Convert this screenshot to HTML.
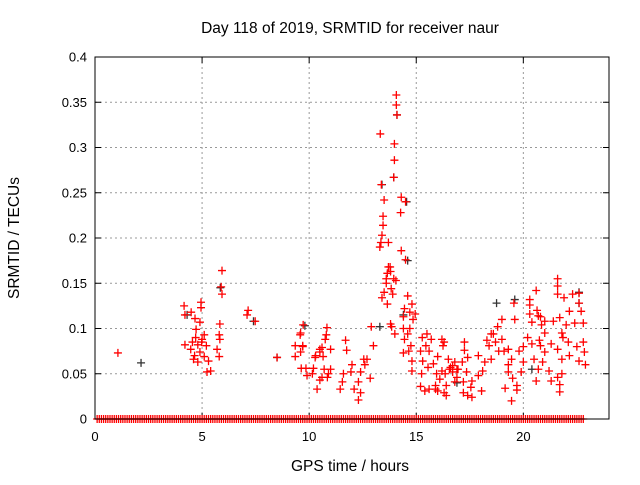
<!DOCTYPE html>
<html><head><meta charset="utf-8"><style>
body{margin:0;background:#fff}
svg text{font-family:"Liberation Sans",sans-serif;font-size:13px;fill:#000}
svg text.big{font-size:15.5px}
</style></head><body>
<svg id="chart" width="640" height="480" viewBox="0 0 640 480">
<rect width="640" height="480" fill="#fff"/>
<g id="grid"></g>
<g id="ticks"></g>
<g id="blackpts"></g>
<g id="redpts"></g>
<rect x="95" y="57" width="514" height="362" fill="none" stroke="#000" stroke-width="1"/>
<text class="big" x="350" y="33" text-anchor="middle">Day 118 of 2019, SRMTID for receiver naur</text>
<text class="big" x="350" y="471" text-anchor="middle">GPS time / hours</text>
<text class="big" transform="translate(19,238) rotate(-90)" text-anchor="middle">SRMTID / TECUs</text>
</svg>
<script>
const xTicks=[0,5,10,15,20];
const xTickLabels=["0","5","10","15","20"];
const yTicks=[0,0.05,0.1,0.15,0.2,0.25,0.3,0.35,0.4];
const yTickLabels=["0","0.05","0.1","0.15","0.2","0.25","0.3","0.35","0.4"];
const redHours=[1.07,4.16,4.2,4.49,4.67,4.95,4.95,4.9,4.72,5.1,4.2,4.47,4.55,4.8,4.65,4.6,4.8,5.1,5.3,5.23,5.4,5.7,5.8,5.8,5.83,5.83,5.0,5.2,5.93,5.89,5.93,4.7,4.98,4.9,7.15,7.1,7.48,8.5,
9.35,9.35,9.72,9.6,9.7,9.63,9.85,9.9,10.2,10.15,10.37,10.3,10.5,10.6,10.75,10.83,10.65,10.7,10.9,10.6,9.58,9.7,9.6,10.28,10.5,10.8,11.0,10.85,11.0,10.5,11.55,11.45,11.7,11.75,11.6,12.0,12.1,12.3,12.4,12.3,11.95,12.4,12.55,12.6,12.7,12.85,12.9,13.0,
14.07,14.07,14.1,13.32,13.98,13.98,13.95,13.37,13.5,13.45,13.45,13.4,13.35,13.3,13.7,14.3,14.5,14.27,14.3,14.5,13.7,13.78,13.65,13.8,13.6,13.95,13.6,14.05,13.83,13.5,13.9,13.4,13.65,14.6,14.8,14.45,14.7,14.4,14.95,14.85,13.8,13.85,14.0,14.4,14.7,14.6,14.45,14.75,14.4,14.65,14.8,14.8,
15.28,15.5,15.7,15.45,15.6,15.2,15.3,15.55,15.8,16.2,16.25,16.0,15.95,15.25,15.2,15.4,15.6,15.9,16.3,16.1,16.2,16.5,16.7,16.7,16.8,16.55,16.9,
21.6,21.6,21.6,20.6,22.3,22.6,21.9,22.6,22.7,22.15,19.56,20.3,20.3,20.3,20.4,19.6,20.8,20.85,20.64,20.7,21.0,21.4,21.7,22.0,22.4,22.8,21.8,21.85,22.1,22.5,22.8,22.85,22.9,22.6,22.15,21.8,21.6,21.3,21.0,20.9,21.2,21.6,21.7,21.7,21.8,21.3,20.7,20.6,20.5,20.4,20.75,21.0,20.8,20.2,20.0,20.0,19.9,19.7,19.7,19.45,19.5,19.3,19.15,19.45,19.3,19.0,18.85,18.7,18.6,18.4,18.2,18.5,18.1,17.9,17.6,17.55,17.4,17.6,17.2,17.2,17.35,17.15,16.95,16.9,16.8,16.6,16.4,16.4,16.35,16.3,16.0,15.9,17.25,17.25,17.4,17.9,18.3,18.5,18.8,19.0,18.05,19.3,19.8,19.1];
const redValues=[0.073,0.125,0.115,0.118,0.111,0.129,0.123,0.107,0.099,0.093,0.082,0.077,0.085,0.082,0.07,0.066,0.063,0.069,0.064,0.052,0.053,0.077,0.069,0.093,0.105,0.088,0.088,0.081,0.164,0.146,0.138,0.09,0.085,0.074,0.12,0.115,0.108,0.068,
0.081,0.069,0.104,0.095,0.081,0.056,0.056,0.048,0.056,0.05,0.033,0.07,0.074,0.079,0.088,0.101,0.069,0.055,0.05,0.046,0.093,0.08,0.074,0.068,0.077,0.093,0.077,0.046,0.055,0.043,0.041,0.033,0.087,0.076,0.05,0.06,0.033,0.041,0.029,0.021,0.052,0.052,0.066,0.06,0.066,0.045,0.102,0.081,
0.358,0.347,0.336,0.315,0.304,0.286,0.267,0.259,0.242,0.224,0.214,0.203,0.195,0.19,0.195,0.245,0.24,0.228,0.186,0.176,0.168,0.168,0.161,0.163,0.155,0.155,0.15,0.153,0.144,0.14,0.138,0.134,0.127,0.136,0.127,0.122,0.118,0.113,0.116,0.11,0.105,0.102,0.094,0.1,0.1,0.094,0.088,0.081,0.073,0.075,0.064,0.053,
0.09,0.094,0.088,0.081,0.075,0.075,0.064,0.057,0.061,0.088,0.081,0.069,0.05,0.05,0.036,0.031,0.033,0.033,0.029,0.044,0.053,0.066,0.059,0.052,0.041,0.055,0.055,
0.155,0.147,0.138,0.142,0.138,0.139,0.134,0.128,0.119,0.119,0.128,0.132,0.126,0.116,0.107,0.11,0.113,0.104,0.12,0.114,0.108,0.108,0.112,0.104,0.106,0.106,0.095,0.09,0.085,0.08,0.085,0.074,0.06,0.064,0.07,0.066,0.077,0.083,0.074,0.063,0.053,0.046,0.038,0.03,0.05,0.042,0.055,0.042,0.066,0.083,0.087,0.095,0.081,0.09,0.08,0.063,0.052,0.037,0.032,0.02,0.045,0.052,0.034,0.066,0.077,0.088,0.075,0.085,0.094,0.081,0.063,0.066,0.053,0.048,0.042,0.035,0.026,0.024,0.029,0.041,0.052,0.063,0.055,0.046,0.063,0.057,0.037,0.026,0.05,0.085,0.031,0.037,0.085,0.076,0.068,0.07,0.087,0.094,0.102,0.11,0.031,0.06,0.075,0.075];
const zeroHours=[0.1,0.2,0.3,0.4,0.5,0.6,0.7,0.8,0.9,1.0,1.1,1.2,1.3,1.4,1.5,1.6,1.7,1.8,1.9,2.0,2.1,2.2,2.3,2.4,2.5,2.6,2.7,2.8,2.9,3.0,3.1,3.2,3.3,3.4,3.5,3.6,3.7,3.8,3.9,4.0,4.1,4.2,4.3,4.4,4.5,4.6,4.7,4.8,4.9,5.0,5.1,5.2,5.3,5.4,5.5,5.6,5.7,5.8,5.9,6.0,6.1,6.2,6.3,6.4,6.5,6.6,6.7,6.8,6.9,7.0,7.1,7.2,7.3,7.4,7.5,7.6,7.7,7.8,7.9,8.0,8.1,8.2,8.3,8.4,8.5,8.6,8.7,8.8,8.9,9.0,9.1,9.2,9.3,9.4,9.5,9.6,9.7,9.8,9.9,10.0,10.1,10.2,10.3,10.4,10.5,10.6,10.7,10.8,10.9,11.0,11.1,11.2,11.3,11.4,11.5,11.6,11.7,11.8,11.9,12.0,12.1,12.2,12.3,12.4,12.5,12.6,12.7,12.8,12.9,13.0,13.1,13.2,13.3,13.4,13.5,13.6,13.7,13.8,13.9,14.0,14.1,14.2,14.3,14.4,14.5,14.6,14.7,14.8,14.9,15.0,15.1,15.2,15.3,15.4,15.5,15.6,15.7,15.8,15.9,16.0,16.1,16.2,16.3,16.4,16.5,16.6,16.7,16.8,16.9,17.0,17.1,17.2,17.3,17.4,17.5,17.6,17.7,17.8,17.9,18.0,18.1,18.2,18.3,18.4,18.5,18.6,18.7,18.8,18.9,19.0,19.1,19.2,19.3,19.4,19.5,19.6,19.7,19.8,19.9,20.0,20.1,20.2,20.3,20.4,20.5,20.6,20.7,20.8,20.9,21.0,21.1,21.2,21.3,21.4,21.5,21.6,21.7,21.8,21.9,22.0,22.1,22.2,22.3,22.4,22.5,22.6,22.7,22.8];
const blackHours=[2.15,4.3,5.85,7.4,8.5,9.8,13.4,13.95,14.1,14.6,14.55,13.3,18.75,22.6,22.6,19.6,20.4,16.9,14.4];
const blackValues=[0.062,0.115,0.145,0.108,0.068,0.103,0.259,0.267,0.336,0.175,0.24,0.102,0.128,0.128,0.14,0.132,0.055,0.04,0.115];

const NS='http://www.w3.org/2000/svg';
const X0=95,X1=609,Y0=419,Y1=57;
function xs(h){return X0+(h/24)*(X1-X0);}
function ys(v){return Y0-(v/0.4)*(Y0-Y1);}
function mk(tag,attrs,parent){const e=document.createElementNS(NS,tag);for(const k in attrs)e.setAttribute(k,attrs[k]);parent.appendChild(e);return e;}
const grid=document.getElementById('grid'),ticks=document.getElementById('ticks');
yTicks.forEach((v,i)=>{
  const y=ys(v);
  if(v>0&&v<0.4){const l=mk('line',{x1:X0,x2:X1,y1:y,y2:y,stroke:'#999','stroke-dasharray':'2,3'},grid);
  
  }
  mk('line',{x1:X0,x2:X0+6,y1:y,y2:y,stroke:'#000'},ticks);
  mk('line',{x1:X1-6,x2:X1,y1:y,y2:y,stroke:'#000'},ticks);
  const t=mk('text',{x:X0-8,y:y+4.5,'text-anchor':'end'},ticks);t.textContent=yTickLabels[i];
  
  
});
xTicks.forEach((h,i)=>{
  const x=xs(h);
  if(h>0){const l=mk('line',{x1:x,x2:x,y1:Y1,y2:Y0,stroke:'#999','stroke-dasharray':'2,3'},grid);
  
  }
  mk('line',{x1:x,x2:x,y1:Y0,y2:Y0-6,stroke:'#000'},ticks);
  mk('line',{x1:x,x2:x,y1:Y1,y2:Y1+6,stroke:'#000'},ticks);
  const t=mk('text',{x:x,y:Y0+22,'text-anchor':'middle'},ticks);t.textContent=xTickLabels[i];
  
  
});
function cross(h,v,color,parent,name){
  const x=xs(h),y=ys(v);
  const p=mk('path',{d:`M${x-4},${y}H${x+4}M${x},${y-4}V${y+4}`,stroke:color,'stroke-width':1.3,fill:'none'},parent);
  
  
}
const bp=document.getElementById('blackpts'),rp=document.getElementById('redpts');
blackHours.forEach((h,i)=>cross(h,blackValues[i],'#333',bp,'black-point'));
zeroHours.forEach(h=>cross(h,0,'#ff0000',rp,'zero-point'));
redHours.forEach((h,i)=>cross(h,redValues[i],'#ff0000',rp,'red-point'));
</script>
</body></html>
